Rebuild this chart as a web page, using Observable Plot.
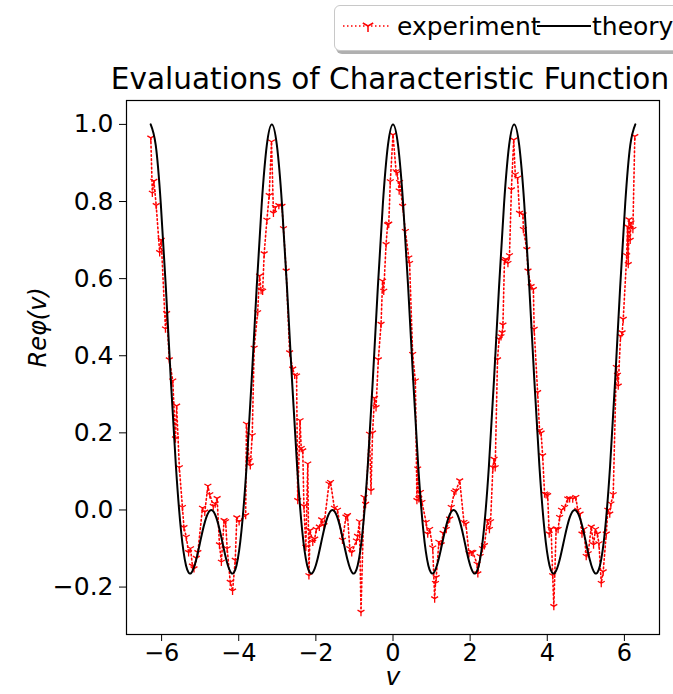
<!DOCTYPE html>
<html><head><meta charset="utf-8">
<script src="https://cdn.jsdelivr.net/npm/d3@7"></script>
<script src="https://cdn.jsdelivr.net/npm/@observablehq/plot@0.6"></script>
<style>
html,body{margin:0;padding:0;background:#fff;}
body{width:673px;height:694px;position:relative;overflow:hidden;font-family:"DejaVu Sans",sans-serif;color:#000;}
#header{position:relative;height:96px;width:673px;}
#legend{position:absolute;left:334px;top:5px;width:360px;height:44px;border:1.5px solid #c8c8c8;border-radius:6px;box-shadow:2px 3px 0 #b0b0b0;background:#fff;}
#legend span{position:absolute;font-size:25px;line-height:26px;top:8px;white-space:nowrap;}
#title{position:absolute;left:0;width:780px;text-align:center;top:63px;font-size:29.5px;line-height:32px;white-space:nowrap;}
#chart{display:block;}
</style></head>
<body>
<div id="header">
  <div id="legend">
    <svg width="200" height="44" style="position:absolute;left:0;top:0">
      <line x1="8" x2="56" y1="20" y2="20" stroke="red" stroke-width="1.5" stroke-dasharray="1.5,2.5"/>
      <path d="M33,20 L33,26 M33,20 L27.8,17 M33,20 L38.2,17" stroke="red" stroke-width="1.5" fill="none"/>
    </svg>
    <span style="left:62px">experiment</span>
    <svg width="60" height="44" style="position:absolute;left:200px;top:0">
      <line x1="2" x2="56" y1="20" y2="20" stroke="black" stroke-width="2"/>
    </svg>
    <span style="left:257px">theory</span>
  </div>
  <div id="title">Evaluations of Characteristic Function</div>
</div>
<div id="chart"></div>
<script>
// ---- data ----
const expV = [-6.28,-6.24,-6.20,-6.14,-6.05,-6.01,-5.90,-5.87,-5.80,-5.71,-5.64,-5.61,-5.54,-5.46,-5.42,-5.36,-5.30,-5.25,-5.20,-5.16,-5.10,-5.06,-4.94,-4.88,-4.80,-4.75,-4.66,-4.61,-4.56,-4.50,-4.45,-4.38,-4.34,-4.30,-4.22,-4.16,-4.09,-4.05,-3.99,-3.82,-3.80,-3.73,-3.70,-3.65,-3.60,-3.51,-3.46,-3.42,-3.38,-3.34,-3.27,-3.21,-3.15,-3.10,-3.05,-2.96,-2.88,-2.84,-2.77,-2.68,-2.60,-2.55,-2.50,-2.47,-2.41,-2.38,-2.34,-2.31,-2.26,-2.21,-2.18,-2.15,-2.08,-2.03,-1.99,-1.91,-1.85,-1.79,-1.66,-1.62,-1.52,-1.44,-1.31,-1.22,-1.18,-1.12,-1.07,-0.95,-0.92,-0.87,-0.83,-0.75,-0.71,-0.61,-0.57,-0.53,-0.48,-0.44,-0.38,-0.31,-0.27,-0.24,-0.18,-0.14,-0.11,-0.07,0.00,0.08,0.11,0.16,0.17,0.25,0.32,0.41,0.43,0.51,0.58,0.62,0.64,0.67,0.71,0.75,0.86,0.90,0.95,1.03,1.08,1.10,1.12,1.19,1.25,1.30,1.38,1.47,1.51,1.59,1.63,1.73,1.84,1.89,1.97,2.03,2.07,2.18,2.20,2.26,2.32,2.37,2.45,2.50,2.53,2.59,2.62,2.65,2.71,2.75,2.80,2.83,2.85,2.89,2.92,2.98,3.02,3.07,3.13,3.17,3.23,3.28,3.37,3.38,3.47,3.50,3.58,3.64,3.66,3.75,3.80,3.84,3.88,3.93,3.97,4.01,4.05,4.10,4.14,4.17,4.23,4.28,4.32,4.37,4.45,4.53,4.58,4.66,4.74,4.79,4.85,4.90,4.95,5.01,5.06,5.14,5.20,5.25,5.30,5.34,5.40,5.45,5.53,5.57,5.62,5.65,5.71,5.79,5.82,5.84,5.90,5.94,5.97,6.06,6.08,6.10,6.12,6.15,6.17,6.22,6.27];
const expY = [0.965,0.822,0.853,0.790,0.668,0.700,0.470,0.510,0.390,0.335,0.185,0.270,0.110,0.007,-0.045,-0.070,-0.110,-0.100,-0.145,-0.152,-0.125,-0.110,0.005,-0.005,0.062,0.040,0.010,0.016,0.030,-0.090,-0.135,-0.027,-0.030,-0.100,-0.187,-0.210,-0.130,-0.020,-0.030,-0.014,0.223,0.128,0.115,0.193,0.420,0.512,0.607,0.570,0.568,0.665,0.752,0.816,0.955,0.770,0.785,0.790,0.788,0.730,0.620,0.408,0.366,0.350,0.348,0.025,0.232,0.160,0.154,0.010,-0.096,0.120,-0.170,-0.053,-0.083,-0.075,-0.050,-0.044,-0.025,-0.040,0.068,0.072,0.005,0.000,-0.078,-0.018,-0.014,-0.100,-0.110,-0.080,-0.068,-0.030,-0.265,0.033,0.015,0.197,0.050,0.200,0.290,0.266,0.390,0.482,0.594,0.568,0.689,0.740,0.742,0.852,0.973,0.878,0.874,0.828,0.850,0.788,0.723,0.654,0.640,0.404,0.335,0.025,0.107,0.030,0.046,0.020,-0.032,-0.062,-0.050,-0.098,-0.230,-0.190,-0.175,-0.083,-0.090,-0.060,-0.050,-0.023,0.007,0.046,0.050,0.076,-0.032,-0.036,-0.113,-0.109,-0.110,-0.140,-0.165,-0.120,-0.100,-0.092,-0.027,-0.050,-0.030,0.110,0.132,0.110,0.390,0.443,0.450,0.460,0.480,0.646,0.650,0.640,0.660,0.831,0.960,0.870,0.861,0.770,0.766,0.728,0.676,0.620,0.580,0.572,0.469,0.305,0.206,0.200,0.141,0.042,0.040,0.038,-0.062,-0.049,-0.170,-0.250,-0.049,-0.050,-0.019,0.000,0.007,0.029,0.030,0.029,0.033,0.000,-0.010,-0.062,-0.050,-0.120,-0.113,-0.044,-0.090,-0.050,-0.062,-0.087,-0.190,-0.160,-0.062,0.000,-0.010,0.016,0.040,0.370,0.350,0.322,0.451,0.460,0.495,0.660,0.735,0.637,0.753,0.700,0.745,0.728,0.969];

const theoryV = [-6.283,-6.152,-6.021,-5.890,-5.760,-5.629,-5.498,-5.367,-5.236,-5.105,-4.974,-4.843,-4.712,-4.581,-4.451,-4.320,-4.189,-4.058,-3.927,-3.796,-3.665,-3.534,-3.403,-3.272,-3.142,-3.011,-2.880,-2.749,-2.618,-2.487,-2.356,-2.225,-2.094,-1.963,-1.833,-1.702,-1.571,-1.440,-1.309,-1.178,-1.047,-0.916,-0.785,-0.654,-0.524,-0.393,-0.262,-0.131,0.000,0.131,0.262,0.393,0.524,0.654,0.785,0.916,1.047,1.178,1.309,1.440,1.571,1.702,1.833,1.963,2.094,2.225,2.356,2.487,2.618,2.749,2.880,3.011,3.142,3.272,3.403,3.534,3.665,3.796,3.927,4.058,4.189,4.320,4.451,4.581,4.712,4.843,4.974,5.105,5.236,5.367,5.498,5.629,5.760,5.890,6.021,6.152,6.283];
const theoryY = [1.000,0.946,0.795,0.578,0.336,0.114,-0.052,-0.144,-0.164,-0.130,-0.071,-0.020,0.000,-0.020,-0.071,-0.130,-0.164,-0.144,-0.052,0.114,0.336,0.578,0.795,0.946,
1.000,0.946,0.795,0.578,0.336,0.114,-0.052,-0.144,-0.164,-0.130,-0.071,-0.020,0.000,-0.020,-0.071,-0.130,-0.164,-0.144,-0.052,0.114,0.336,0.578,0.795,0.946,
1.000,0.946,0.795,0.578,0.336,0.114,-0.052,-0.144,-0.164,-0.130,-0.071,-0.020,0.000,-0.020,-0.071,-0.130,-0.164,-0.144,-0.052,0.114,0.336,0.578,0.795,0.946,
1.000,0.946,0.795,0.578,0.336,0.114,-0.052,-0.144,-0.164,-0.130,-0.071,-0.020,0.000,-0.020,-0.071,-0.130,-0.164,-0.144,-0.052,0.114,0.336,0.578,0.795,0.946,
1.000];

const xTicks = [-6,-4,-2,0,2,4,6];
const yTicks = [-0.2,0.0,0.2,0.4,0.6,0.8,1.0];
const xLabel = "v";
const yLabel = "Reφ(v)";

// ---- tables ----
const expData = expV.map((v, i) => ({v, y: expY[i]}));
const theoryData = theoryV.map((v, i) => ({v, y: theoryY[i]}));

const minus = "\u2212";
const fmtX = d => (d < 0 ? minus : "") + Math.abs(d);
const fmtY = d => (d < 0 ? minus : "") + Math.abs(d).toFixed(1);

// matplotlib "tri_down" marker
const triDown = {
  draw(ctx, size) {
    const r = Math.sqrt(size / Math.PI);
    ctx.moveTo(0, 0); ctx.lineTo(0, r);
    ctx.moveTo(0, 0); ctx.lineTo(-r * 0.866, -r * 0.5);
    ctx.moveTo(0, 0); ctx.lineTo(r * 0.866, -r * 0.5);
  }
};

const chart = Plot.plot({
  width: 673,
  height: 598,
  marginTop: 4,
  marginBottom: 60,
  marginLeft: 126,
  marginRight: 14,
  style: {fontFamily: "DejaVu Sans", fontSize: "25px", color: "#000", background: "#fff", overflow: "visible"},
  x: {domain: [-6.91, 6.91]},
  y: {domain: [-0.323, 1.062]},
  marks: [
    Plot.axisX({ticks: xTicks, tickFormat: fmtX, tickSize: 7, tickPadding: 2, label: null, fontSize: 24, stroke: "#000"}),
    Plot.axisY({ticks: yTicks, tickFormat: fmtY, tickSize: 7, tickPadding: 6, label: null, fontSize: 25, stroke: "#000"}),
    Plot.line(expData, {x: "v", y: "y", stroke: "red", strokeWidth: 1.6, strokeDasharray: "1.6,2.6"}),
    Plot.dot(expData, {x: "v", y: "y", symbol: triDown, r: 4, stroke: "red", strokeWidth: 1.3, fill: "none"}),
    Plot.line(theoryData, {x: "v", y: "y", stroke: "black", strokeWidth: 2, curve: "natural"}),
    Plot.frame({stroke: "#000", strokeWidth: 1.2}),
    Plot.text([xLabel], {frameAnchor: "bottom", dy: 50, fontSize: 25, fontStyle: "italic", fill: "#000"}),
    Plot.text([yLabel], {frameAnchor: "left", dx: -88, rotate: -90, fontSize: 24, fontStyle: "italic", fill: "#000"})
  ]
});
document.getElementById("chart").appendChild(chart);
</script>
</body></html>
